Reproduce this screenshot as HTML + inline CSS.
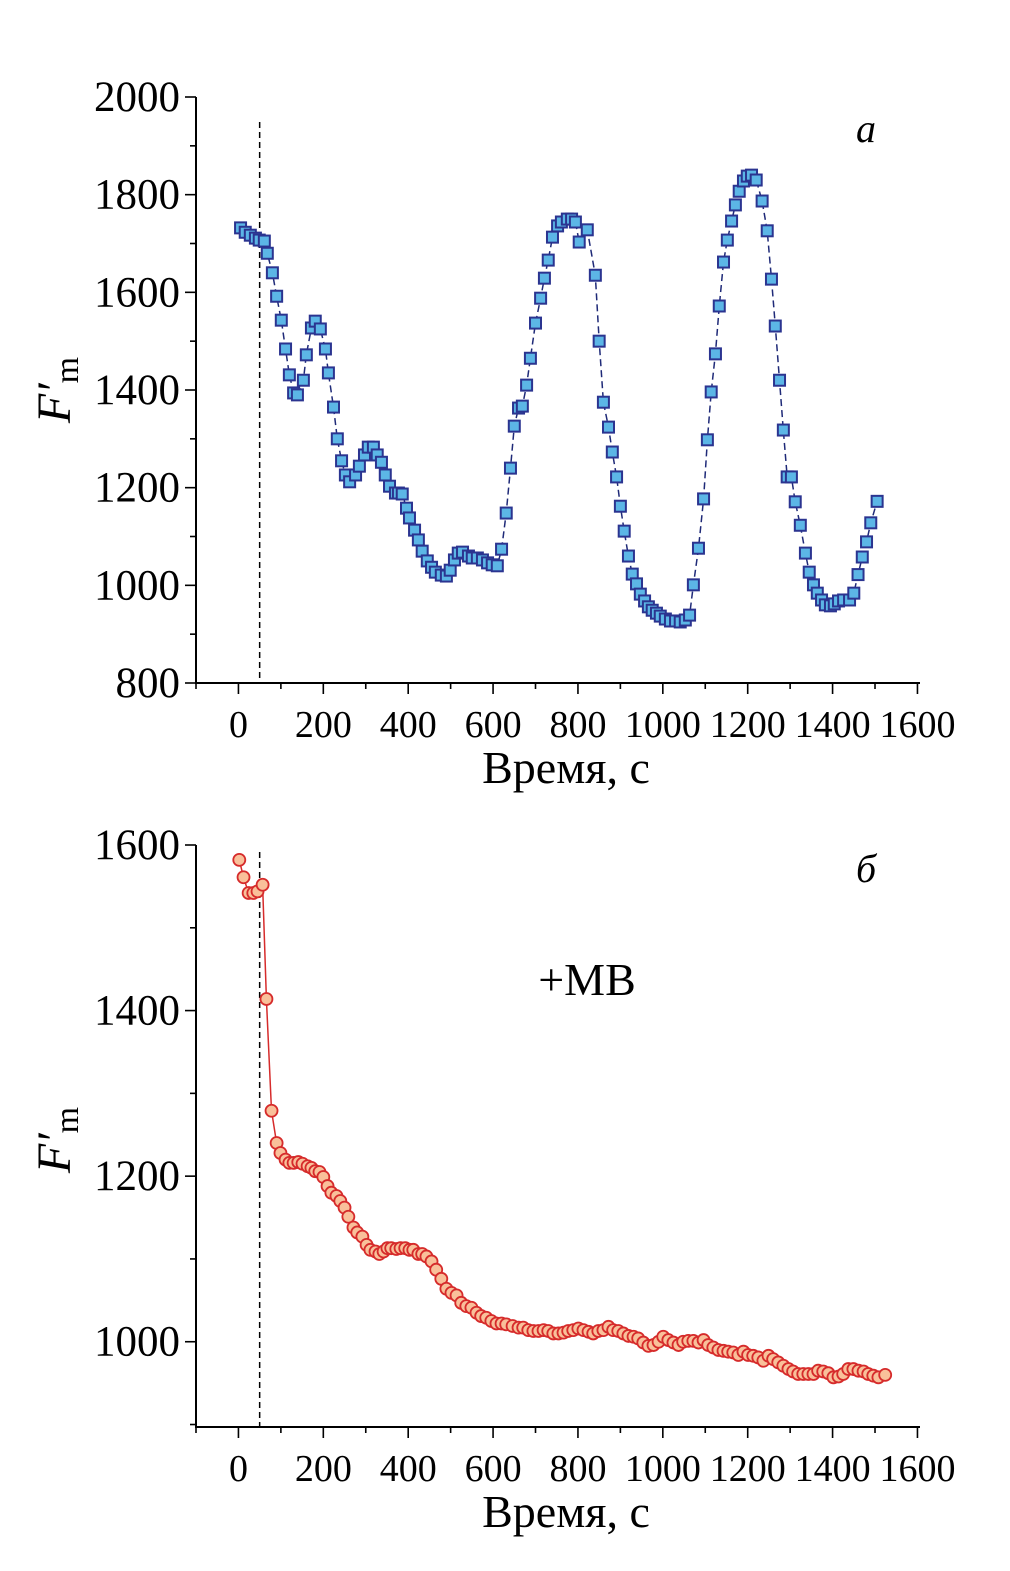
<!DOCTYPE html>
<html><head><meta charset="utf-8"><style>
html,body{margin:0;padding:0;background:#fff}
svg{display:block}
text{font-family:"Liberation Serif",serif;fill:#000}
</style></head><body>
<svg id="fig" width="1010" height="1571" viewBox="0 0 1010 1571"></svg>
<script>
const timesA=[5,16,28,40,49,61,68,80,90,101,111,120,130,139,153,160,172,181,193,205,212,224,233,243,252,262,276,285,297,306,318,327,337,346,356,370,377,386,396,403,415,424,433,445,455,464,478,490,499,509,518,528,542,551,563,575,587,598,610,620,631,641,650,660,669,679,688,700,712,721,730,740,752,761,775,785,794,803,822,841,850,860,872,881,891,900,909,919,928,938,947,957,966,975,985,994,1006,1018,1030,1041,1053,1063,1072,1084,1096,1105,1114,1124,1133,1143,1152,1162,1171,1180,1190,1199,1209,1220,1234,1246,1256,1265,1275,1284,1293,1303,1312,1324,1336,1345,1355,1364,1374,1383,1395,1404,1414,1426,1440,1450,1460,1470,1480,1490,1505];
const valuesA=[1732,1723,1717,1711,1707,1705,1680,1640,1592,1543,1484,1431,1394,1390,1420,1472,1527,1541,1525,1484,1435,1365,1300,1255,1226,1212,1226,1244,1267,1283,1283,1267,1252,1226,1203,1189,1189,1187,1158,1138,1113,1093,1070,1050,1037,1027,1021,1019,1031,1052,1066,1068,1060,1056,1056,1052,1046,1042,1040,1074,1148,1240,1326,1363,1367,1410,1465,1537,1588,1629,1666,1713,1736,1744,1750,1750,1744,1703,1728,1635,1500,1375,1324,1273,1222,1162,1111,1060,1023,1003,982,968,956,949,943,937,931,927,927,925,929,939,1001,1076,1177,1298,1396,1474,1572,1662,1707,1746,1779,1807,1828,1838,1840,1830,1787,1726,1627,1531,1420,1318,1222,1222,1171,1123,1066,1027,1001,984,970,960,958,962,968,970,970,984,1022,1058,1089,1128,1172];
const timesB=[2,12,24,35,45,57,66,78,90,99,111,120,130,141,151,163,172,181,191,200,210,219,231,240,250,259,271,280,292,302,311,323,332,342,351,360,372,382,393,403,412,424,433,443,455,466,478,490,502,514,525,537,549,561,572,584,596,608,620,631,646,660,671,683,695,707,719,730,742,754,766,777,789,801,813,825,836,848,860,872,883,895,907,919,931,942,954,966,978,990,1001,1013,1025,1037,1048,1060,1072,1084,1096,1107,1119,1131,1143,1154,1166,1178,1190,1201,1213,1225,1237,1249,1260,1272,1284,1296,1307,1319,1331,1343,1355,1366,1378,1390,1402,1414,1425,1437,1449,1461,1473,1484,1496,1508,1524];
const valuesB=[1582,1561,1542,1542,1544,1552,1414,1279,1240,1228,1220,1216,1216,1217,1215,1212,1210,1206,1205,1199,1188,1180,1176,1170,1162,1151,1138,1132,1127,1117,1111,1109,1106,1109,1113,1113,1112,1113,1113,1111,1111,1106,1106,1103,1097,1087,1076,1064,1059,1056,1047,1043,1041,1035,1031,1029,1025,1022,1022,1021,1019,1017,1017,1014,1013,1013,1014,1013,1010,1010,1011,1013,1014,1016,1014,1012,1010,1013,1014,1018,1014,1013,1010,1007,1006,1004,999,995,996,1000,1006,1002,999,996,1000,1001,1001,999,1002,996,993,990,989,988,987,984,988,984,983,981,977,983,979,975,971,967,964,961,961,961,961,965,964,962,957,958,961,967,967,965,964,961,959,957,960];
const xTicks=[0,200,400,600,800,1000,1200,1400,1600];
const yTicksA=[800,1000,1200,1400,1600,1800,2000];
const yTicksB=[1000,1200,1400,1600];
const markerTime=50;

const NS="http://www.w3.org/2000/svg";
const svg=document.getElementById('fig');
function mk(tag,attrs,parent){const e=document.createElementNS(NS,tag);for(const k in attrs)e.setAttribute(k,attrs[k]);(parent||svg).appendChild(e);return e;}

function panel(cfg){
  const g=mk('g',{});
  
  
  const xs=t=>cfg.x0+(t-cfg.xmin)/(cfg.xmax-cfg.xmin)*(cfg.x1-cfg.x0);
  const ys=v=>cfg.yb-(v-cfg.ymin)/(cfg.ymax-cfg.ymin)*(cfg.yb-cfg.yt);
  const ax=mk('path',{d:`M${cfg.x0},${ys(cfg.ymax)}V${cfg.yb}H${cfg.x1}`,stroke:'#000','stroke-width':2,fill:'none'},g);
  
  
  for(let t=-100;t<=1600;t+=100){
    const major=t%200===0;
    mk('line',{x1:xs(t),x2:xs(t),y1:cfg.yb,y2:cfg.yb+(major?11:6),stroke:'#000','stroke-width':1.6},g);
  }
  xTicks.forEach(t=>{
    const tx=mk('text',{x:xs(t),y:cfg.yb+54,'font-size':38,'text-anchor':'middle'},g);
    tx.textContent=t;
    
    
  });
  for(let v=cfg.ymax;v>=cfg.ymin-0.1;v-=100){
    const major=cfg.yTicks.includes(v);
    mk('line',{x1:cfg.x0,x2:cfg.x0-(major?11:6),y1:ys(v),y2:ys(v),stroke:'#000','stroke-width':1.6},g);
  }
  cfg.yTicks.forEach(v=>{
    const tx=mk('text',{x:cfg.x0-16,y:ys(v)+14,'font-size':43,'text-anchor':'end'},g);
    tx.textContent=v;
    
    
  });
  const xt=mk('text',{x:566,y:cfg.yb+100,'font-size':46,'text-anchor':'middle'},g);
  xt.textContent='Время, с';
  
  
  const yt=mk('text',{transform:`translate(70,${cfg.ylabY}) rotate(-90)`,'font-size':48,'text-anchor':'middle'},g);
  yt.innerHTML='<tspan font-style="italic">F′</tspan><tspan font-size="34" dy="8">m</tspan>';
  
  
  const ml=mk('line',{x1:xs(markerTime),x2:xs(markerTime),y1:cfg.dashTop,y2:cfg.yb,stroke:'#000','stroke-width':1.5,'stroke-dasharray':'6,4'},g);
  
  
  const d=cfg.t.map((t,i)=>(i?'L':'M')+xs(t).toFixed(1)+','+ys(cfg.v[i]).toFixed(1)).join('');
  const ln=mk('path',{d:d,fill:'none',stroke:cfg.lineColor,'stroke-width':1.5,'stroke-dasharray':cfg.dash||'none'},g);
  
  
  cfg.t.forEach((t,i)=>{
    let p;
    if(cfg.square){p=mk('rect',{x:xs(t)-5.5,y:ys(cfg.v[i])-5.5,width:11,height:11,fill:'#5cb6e6',stroke:'#2b3490','stroke-width':2},g);}
    else{p=mk('circle',{cx:xs(t),cy:ys(cfg.v[i]),r:6,fill:'#f9c09a',stroke:'#d62b2b','stroke-width':1.8},g);}
    
    
  });
  const lb=mk('text',{x:866,y:cfg.labelY,'font-size':40,'font-style':'italic','text-anchor':'middle'},g);
  lb.textContent=cfg.label;
  
  
}
panel({name:'panel-a',x0:196,x1:920,xmin:-100,xmax:1606,yt:97,yb:683,ymin:800,ymax:2000,yTicks:yTicksA,t:timesA,v:valuesA,square:true,lineColor:'#1f2a78',dash:'7,4',label:'а',labelY:142,dashTop:122,ylabY:390});
panel({name:'panel-b',x0:196,x1:920,xmin:-100,xmax:1606,yt:845,yb:1427,ymin:897,ymax:1600,yTicks:yTicksB,t:timesB,v:valuesB,square:false,lineColor:'#d62b2b',label:'б',labelY:882,dashTop:852,ylabY:1140});
const mb=mk('text',{x:587,y:995,'font-size':46,'text-anchor':'middle'});
mb.textContent='+MB';


</script>
</body></html>
